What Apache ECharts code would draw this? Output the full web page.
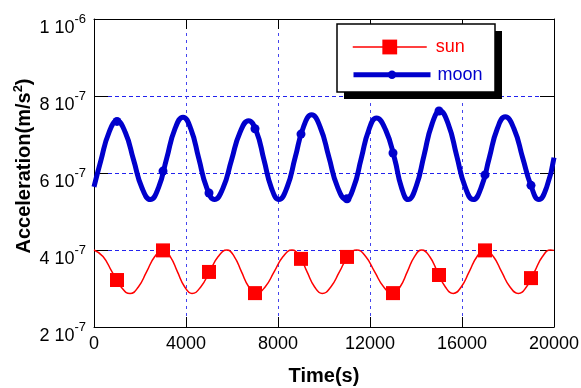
<!DOCTYPE html>
<html><head><meta charset="utf-8">
<script src="https://cdn.jsdelivr.net/npm/echarts@6/dist/echarts.min.js"></script>
<style>html,body{margin:0;padding:0;background:#fff}#c{width:581px;height:388px}</style>
</head><body><div id="c"></div>
<script>
// values in units of 1e-7 m/s^2, time in s
const xTicks = [0, 4000, 8000, 12000, 16000, 20000];
const yTicks = [2, 4, 6, 8, 10];

const sunCurve = [
  [0,4.00],[392,3.83],[785,3.43],[1178,3.04],[1570,2.87],
  [1928,3.04],[2285,3.43],[2643,3.83],[3000,4.00],
  [3315,3.83],[3630,3.43],[3945,3.04],[4260,2.87],
  [4640,3.04],[5020,3.43],[5400,3.83],[5780,4.00],
  [6098,3.83],[6415,3.43],[6733,3.04],[7050,2.87],
  [7440,3.04],[7830,3.43],[8220,3.83],[8610,4.00],
  [8938,3.83],[9265,3.43],[9593,3.04],[9920,2.87],
  [10295,3.04],[10670,3.43],[11045,3.83],[11420,4.00],
  [11813,3.83],[12205,3.43],[12598,3.04],[12990,2.87],
  [13305,3.04],[13620,3.43],[13935,3.83],[14250,4.00],
  [14593,3.83],[14935,3.43],[15278,3.04],[15620,2.87],
  [15965,3.04],[16310,3.43],[16655,3.83],[17000,4.00],
  [17363,3.83],[17725,3.43],[18088,3.04],[18450,2.87],
  [18800,3.04],[19150,3.43],[19500,3.83],[19850,4.00],[20000,3.99]
];
const sunMarks = [
  [1000,3.22],[3000,3.99],[5000,3.43],[7000,2.88],[9000,3.77],
  [11000,3.82],[13000,2.88],[15000,3.35],[17000,3.99],[19000,3.27]
];

const moonCurve = [
  [0,5.64],[300,6.33],[650,7.05],[1000,7.35],
  [1363,7.05],[1725,6.33],[2088,5.61],[2450,5.31],
  [2805,5.62],[3160,6.38],[3515,7.14],[3870,7.45],
  [4213,7.14],[4555,6.38],[4898,5.62],[5240,5.31],
  [5610,5.61],[5980,6.34],[6350,7.06],[6720,7.36],
  [7060,7.08],[7390,6.34],[7715,5.61],[8040,5.31],
  [8395,5.63],[8750,6.41],[9105,7.19],[9460,7.51],
  [9835,7.19],[10210,6.42],[10585,5.64],[10960,5.32],
  [11290,5.63],[11620,6.38],[11950,7.12],[12280,7.43],
  [12680,7.12],[13070,6.37],[13370,5.62],[13660,5.31],
  [14005,5.65],[14350,6.46],[14695,7.27],[15040,7.61],
  [15403,7.27],[15765,6.46],[16128,5.65],[16490,5.31],
  [16838,5.63],[17185,6.39],[17533,7.15],[17880,7.46],
  [18260,7.15],[18640,6.39],[19000,5.67],[19340,5.31],
  [19680,5.63],[20000,6.40]
];
const moonMarks = [
  [1000,7.34],[3000,6.05],[5000,5.48],[7000,7.15],[9000,7.01],
  [11000,5.33],[13000,6.52],[15000,7.61],[17000,5.95],[19000,5.68]
];

const FONT = 'Liberation Sans, Arial, sans-serif';
const chart = echarts.init(document.getElementById('c'), null, { renderer: 'canvas' });

chart.setOption({
  animation: false,
  backgroundColor: '#fff',
  textStyle: { fontFamily: FONT },
  grid: { left: 94, right: 27, top: 19, bottom: 61, containLabel: false, outerBoundsMode: 'none' },
  xAxis: [{
    type: 'value', min: 0, max: 20000, interval: 4000, position: 'bottom',
    name: 'Time(s)', nameLocation: 'middle', nameGap: 39, nameMoveOverlap: false,
    nameTextStyle: { fontFamily: FONT, fontSize: 20, fontWeight: 'bold', color: '#000' },
    axisLine: { show: true, onZero: false, lineStyle: { color: '#000', width: 1 } },
    axisTick: { show: true, inside: true, length: 10, lineStyle: { color: '#000' } },
    axisLabel: { show: true, margin: 8, fontFamily: FONT, fontSize: 18, color: '#000', showMinLabel: true, showMaxLabel: true,
      formatter: function (v) { return String(v); } },
    splitLine: { show: true, lineStyle: { color: '#4444ee', width: 1, type: [3, 4] } }
  }, {
    type: 'value', min: 0, max: 20000, interval: 4000, position: 'top',
    axisLine: { show: true, onZero: false, lineStyle: { color: '#000', width: 1 } },
    axisTick: { show: true, inside: true, length: 10, lineStyle: { color: '#000' } },
    axisLabel: { show: false }, splitLine: { show: false }
  }],
  yAxis: [{
    type: 'value', min: 2, max: 10, interval: 2, position: 'left',
    name: '{a|Acceleration(m/s}{s|2}{a|)}', nameLocation: 'middle', nameGap: 57, nameMoveOverlap: false,
    nameTextStyle: {
      color: '#000', padding: [0, 0, 0, 14],
      rich: {
        a: { fontFamily: FONT, fontSize: 20, fontWeight: 'bold', color: '#000' },
        s: { fontFamily: FONT, fontSize: 13, fontWeight: 'bold', color: '#000', padding: [0, 0, 12, 0] }
      }
    },
    axisLine: { show: true, onZero: false, lineStyle: { color: '#000', width: 1 } },
    axisTick: { show: true, inside: true, length: 14, lineStyle: { color: '#000' } },
    axisLabel: {
      show: true, margin: 8, showMinLabel: true, showMaxLabel: true,
      formatter: function (v) {
        const m = v === 10 ? '1' : String(v);
        const e = v === 10 ? '-6' : '-7';
        return '{a|' + m + ' 10}{s|' + e + '}';
      },
      rich: {
        a: { fontFamily: FONT, fontSize: 18, color: '#000', padding: [18, 0, 0, 0] },
        s: { fontFamily: FONT, fontSize: 13, color: '#000' }
      }
    },
    splitLine: { show: true, lineStyle: { color: '#2222ee', width: 1, type: [4, 3] } }
  }, {
    type: 'value', min: 2, max: 10, interval: 2, position: 'right',
    axisLine: { show: true, onZero: false, lineStyle: { color: '#000', width: 1 } },
    axisTick: { show: true, inside: true, length: 14, lineStyle: { color: '#000' } },
    axisLabel: { show: false }, splitLine: { show: false }
  }],
  graphic: [
    { type: 'rect', z: 50, silent: true, shape: { x: 344, y: 31, width: 158, height: 68 }, style: { fill: '#000' } },
    { type: 'rect', z: 51, silent: true, shape: { x: 337, y: 24, width: 158, height: 68 }, style: { fill: '#fff', stroke: '#000', lineWidth: 1.5 } }
  ],
  legend: [{
    data: ['sun'], orient: 'horizontal', left: 352, top: 38, padding: 0, z: 60,
    itemWidth: 74, itemHeight: 18.5, selectedMode: false,
    lineStyle: { width: 1.5 },
    textStyle: { fontFamily: FONT, fontSize: 18, color: '#ff0000', padding: [0, 0, 0, 4] }
  }, {
    data: ['moon'], orient: 'horizontal', left: 351, top: 65.8, padding: 0, z: 60,
    itemWidth: 77, itemHeight: 10.5, selectedMode: false,
    lineStyle: { width: 5 },
    textStyle: { fontFamily: FONT, fontSize: 18, color: '#0000cc', padding: [0, 0, 0, 2] }
  }],
  series: [{
    name: 'sun', type: 'line', xAxisIndex: 0, yAxisIndex: 0,
    data: sunCurve, smooth: 0.5,
    symbol: 'rect', symbolSize: 14, showSymbol: false,
    lineStyle: { color: '#ff0000', width: 1.5 }, itemStyle: { color: '#ff0000' },
    emphasis: { disabled: true }, z: 3
  }, {
    name: 'moon', type: 'line', xAxisIndex: 0, yAxisIndex: 0,
    data: moonCurve, smooth: 0.5,
    symbol: 'circle', symbolSize: 9, showSymbol: false,
    lineStyle: { color: '#0000cc', width: 5 }, itemStyle: { color: '#0000cc' },
    emphasis: { disabled: true }, z: 2
  }, {
    name: 'sunMarks', type: 'scatter', xAxisIndex: 0, yAxisIndex: 0,
    data: sunMarks, symbol: 'rect', symbolSize: 14,
    itemStyle: { color: '#ff0000', opacity: 1 }, emphasis: { disabled: true }, z: 4
  }, {
    name: 'moonMarks', type: 'scatter', xAxisIndex: 0, yAxisIndex: 0,
    data: moonMarks, symbol: 'circle', symbolSize: 9,
    itemStyle: { color: '#0000cc', opacity: 1 }, emphasis: { disabled: true }, z: 4
  }]
});
</script>
</body></html>
